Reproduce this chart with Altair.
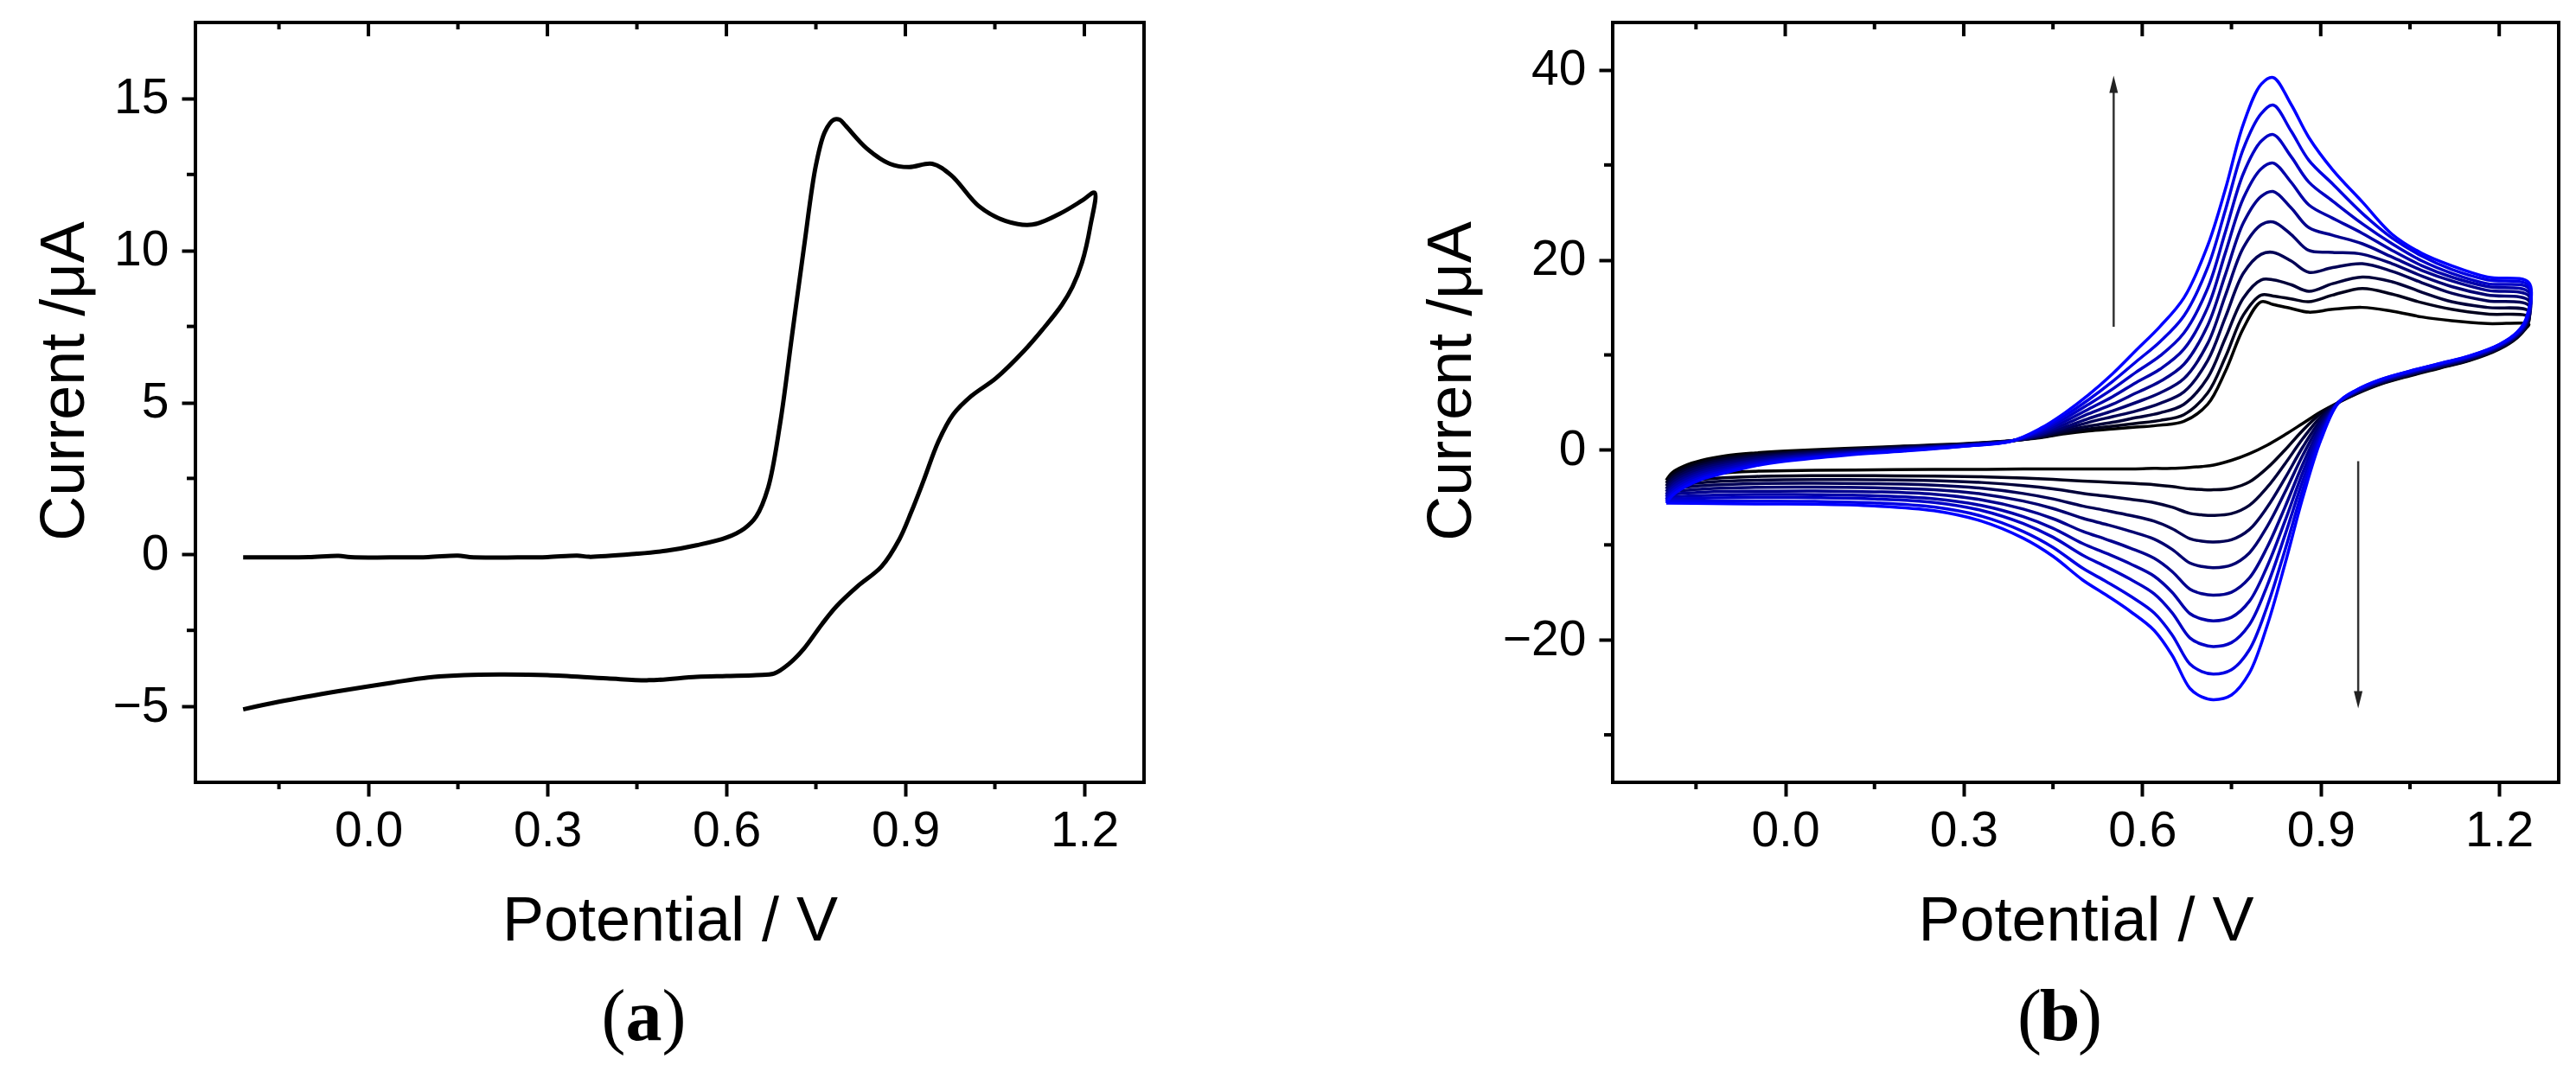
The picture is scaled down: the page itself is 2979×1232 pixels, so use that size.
import altair as alt
import pandas as pd

FONT = "Liberation Sans"
SERIF = "Liberation Serif"

# ---------------- shared axis data ----------------
x_domain = [-0.29, 1.30]
x_major = [0.0, 0.3, 0.6, 0.9, 1.2]
x_minor = [-0.15, 0.15, 0.45, 0.75, 1.05]

ya_domain = [-7.5, 17.5]
ya_major = [-5, 0, 5, 10, 15]
ya_minor = [-2.5, 2.5, 7.5, 12.5]

yb_domain = [-35, 45]
yb_major = [-20, 0, 20, 40]
yb_minor = [-30, -10, 10, 30]

panel_labels = ["a", "b"]
x_title = "Potential / V"
y_title = "Current /\u03bcA"

# ---------------- panel (a): single CV ----------------
a_fwd_x = [-0.21, -0.15, -0.10, -0.05, -0.03, 0.05, 0.10, 0.15, 0.17, 0.25, 0.30, 0.35, 0.37,
           0.45, 0.50, 0.55, 0.60, 0.63, 0.65, 0.67, 0.69, 0.71, 0.73, 0.75, 0.765, 0.78, 0.79,
           0.80, 0.835, 0.874, 0.906, 0.945, 0.977, 1.023, 1.068, 1.113, 1.158, 1.197, 1.217]
a_fwd_y = [-0.10, -0.10, -0.09, -0.05, -0.09, -0.10, -0.09, -0.04, -0.09, -0.10, -0.09, -0.04, -0.08,
           0.02, 0.12, 0.30, 0.55, 0.85, 1.25, 2.2, 4.3, 7.2, 10.1, 12.8, 13.9, 14.3, 14.3,
           14.1, 13.36, 12.85, 12.74, 12.85, 12.47, 11.46, 10.97, 10.85, 11.2, 11.65, 11.9]
a_rev_x = [1.21, 1.196, 1.18, 1.162, 1.13, 1.099, 1.052, 1.01, 0.98, 0.955, 0.93, 0.91, 0.89,
           0.86, 0.82, 0.785, 0.76, 0.73, 0.705, 0.68, 0.65, 0.60, 0.55, 0.47, 0.40, 0.30,
           0.22, 0.16, 0.10, 0.04, -0.05, -0.15, -0.21]
a_rev_y = [10.8, 9.6, 8.8, 8.2, 7.4, 6.7, 5.8, 5.2, 4.6, 3.7, 2.4, 1.4, 0.5,
           -0.4, -1.05, -1.7, -2.3, -3.1, -3.6, -3.92, -3.97, -4.0, -4.03, -4.14, -4.08, -3.97,
           -3.95, -3.97, -4.05, -4.22, -4.5, -4.85, -5.1]

# ---------------- panel (b): 10 successive CVs ----------------
b_up_x = [-0.20, -0.19, -0.17, -0.14, -0.10, -0.05, 0.00, 0.10, 0.20, 0.30, 0.38, 0.43, 0.47,
          0.51, 0.55, 0.59, 0.63, 0.67, 0.71, 0.74, 0.77, 0.80, 0.82, 0.85, 0.88, 0.92, 0.97,
          1.02, 1.07, 1.12, 1.18, 1.25]
b_lo_x = [1.245, 1.23, 1.20, 1.15, 1.10, 1.05, 1.00, 0.96, 0.93, 0.90, 0.87, 0.84, 0.81, 0.78,
          0.75, 0.72, 0.70, 0.68, 0.65, 0.62, 0.58, 0.54, 0.50, 0.45, 0.40, 0.33, 0.25, 0.15,
          0.05, -0.05, -0.12, -0.20]

up0 = [-3.2, -2.4, -1.7, -1.1, -0.62, -0.32, -0.12, 0.15, 0.40, 0.65, 0.97, 1.3, 1.7, 2.0, 2.2, 2.4,
       2.6, 3.0, 4.8, 8.3, 12.8, 15.6, 15.3, 14.9, 14.5, 14.8, 15.0, 14.6, 14.0, 13.6, 13.3, 13.2]
up1 = [-3.5, -2.67, -1.95, -1.32, -0.81, -0.47, -0.24, 0.07, 0.35, 0.62, 0.96, 1.35, 1.8, 2.2, 2.5, 2.8,
       3.1, 3.7, 6.0, 9.8, 14.2, 16.3, 16.2, 15.9, 15.6, 16.3, 17.0, 16.4, 15.5, 14.8, 14.3, 14.0]
up2 = [-3.8, -2.94, -2.2, -1.54, -1.0, -0.62, -0.36, -0.01, 0.29, 0.59, 0.96, 1.4, 2.0, 2.5, 2.9, 3.4,
       3.9, 4.8, 7.6, 11.8, 16.0, 17.9, 17.9, 17.4, 16.7, 17.5, 18.2, 17.7, 16.6, 15.6, 15.0, 14.6]
up3 = [-4.1, -3.21, -2.45, -1.76, -1.2, -0.77, -0.48, -0.09, 0.23, 0.56, 0.95, 1.5, 2.2, 2.9, 3.5, 4.1,
       4.9, 6.1, 9.4, 14.0, 18.6, 20.6, 20.8, 19.9, 18.7, 19.2, 19.6, 18.8, 17.6, 16.5, 15.7, 15.2]
up4 = [-4.4, -3.48, -2.7, -1.98, -1.4, -0.92, -0.60, -0.17, 0.17, 0.53, 0.95, 1.6, 2.4, 3.3, 4.1, 5.0,
       6.0, 7.5, 11.2, 16.3, 21.3, 23.7, 24.0, 22.7, 21.0, 20.8, 20.6, 19.6, 18.3, 17.2, 16.3, 15.7]
up5 = [-4.7, -3.75, -2.95, -2.2, -1.6, -1.07, -0.72, -0.25, 0.11, 0.50, 0.94, 1.7, 2.7, 3.8, 4.8, 6.0,
       7.2, 9.0, 13.1, 18.5, 23.9, 26.7, 27.2, 25.5, 23.4, 22.6, 21.7, 20.3, 18.9, 17.8, 16.8, 16.2]
up6 = [-4.95, -4.02, -3.2, -2.42, -1.8, -1.22, -0.84, -0.33, 0.05, 0.47, 0.94, 1.85, 3.0, 4.3, 5.6, 7.1,
       8.5, 10.6, 15.0, 20.8, 26.5, 29.6, 30.2, 28.2, 25.8, 24.4, 22.8, 21.0, 19.4, 18.2, 17.2, 16.6]
up7 = [-5.2, -4.29, -3.45, -2.64, -2.0, -1.37, -0.96, -0.41, -0.01, 0.44, 0.93, 2.0, 3.3, 4.8, 6.4, 8.2,
       9.9, 12.3, 17.0, 23.0, 29.1, 32.5, 33.2, 30.9, 28.2, 26.2, 23.8, 21.7, 19.9, 18.6, 17.5, 17.0]
up8 = [-5.4, -4.56, -3.7, -2.86, -2.2, -1.52, -1.08, -0.49, -0.07, 0.41, 0.93, 2.15, 3.6, 5.3, 7.2, 9.3,
       11.4, 14.1, 19.2, 25.3, 31.7, 35.4, 36.3, 33.6, 30.5, 28.0, 24.9, 22.3, 20.4, 19.0, 17.9, 17.3]
up9 = [-5.6, -4.83, -3.95, -3.08, -2.4, -1.67, -1.20, -0.57, -0.13, 0.38, 0.92, 2.3, 3.9, 5.8, 8.0, 10.5,
       13.0, 16.0, 21.5, 27.5, 34.3, 38.5, 39.2, 36.4, 32.9, 29.5, 26.1, 22.7, 20.7, 19.4, 18.2, 17.6]

lo0 = [12.8, 11.8, 10.6, 9.4, 8.6, 7.8, 6.9, 5.9, 5.0, 4.0, 2.8, 1.6, 0.5, -0.4, -1.1, -1.6,
       -1.75, -1.85, -1.95, -1.95, -2.0, -2.0, -2.0, -2.0, -2.0, -2.05, -2.05, -2.1, -2.15, -2.25, -2.5, -3.2]
lo1 = [12.9, 11.87, 10.66, 9.46, 8.66, 7.86, 6.96, 5.95, 5.0, 3.82, 2.07, 0.0, -1.91, -3.38, -4.05, -4.2,
       -4.18, -4.11, -3.86, -3.67, -3.52, -3.40, -3.28, -3.10, -2.96, -2.83, -2.75, -2.72, -2.72, -2.8, -3.0, -3.5]
lo2 = [13.0, 11.93, 10.72, 9.52, 8.72, 7.92, 7.02, 6.0, 5.0, 3.48, 1.20, -1.46, -3.94, -5.84, -6.71, -6.9,
       -6.84, -6.68, -6.03, -5.55, -5.19, -4.87, -4.57, -4.11, -3.77, -3.43, -3.23, -3.14, -3.12, -3.2, -3.35, -3.8]
lo3 = [13.1, 12.0, 10.78, 9.58, 8.78, 7.98, 7.08, 6.05, 5.0, 3.12, 0.31, -2.98, -6.04, -8.39, -9.46, -9.7,
       -9.61, -9.34, -8.29, -7.51, -6.90, -6.39, -5.91, -5.16, -4.59, -4.04, -3.71, -3.56, -3.52, -3.55, -3.7, -4.1]
lo4 = [13.2, 12.07, 10.84, 9.64, 8.84, 8.04, 7.14, 6.1, 5.0, 2.77, -0.55, -4.45, -8.07, -10.85, -12.12, -12.4,
       -12.27, -11.91, -10.46, -9.39, -8.57, -7.86, -7.20, -6.17, -5.39, -4.64, -4.19, -3.99, -3.92, -3.95, -4.05, -4.4]
lo5 = [13.3, 12.13, 10.9, 9.7, 8.9, 8.1, 7.2, 6.15, 5.0, 2.40, -1.48, -6.02, -10.25, -13.49, -14.98, -15.3,
       -15.14, -14.66, -12.79, -11.41, -10.34, -9.43, -8.57, -7.24, -6.23, -5.26, -4.67, -4.41, -4.32, -4.35, -4.4, -4.7]
lo6 = [13.4, 12.2, 10.96, 9.76, 8.96, 8.16, 7.26, 6.2, 5.0, 2.06, -2.34, -7.49, -12.27, -15.95, -17.63, -18.0,
       -17.80, -17.23, -14.97, -13.29, -12.00, -10.90, -9.86, -8.25, -7.03, -5.86, -5.15, -4.83, -4.72, -4.7, -4.75, -4.95]
lo7 = [13.5, 12.27, 11.02, 9.82, 9.02, 8.22, 7.32, 6.25, 5.0, 1.71, -3.20, -8.96, -14.30, -18.41, -20.29, -20.7,
       -20.46, -19.79, -17.12, -15.14, -13.62, -12.32, -11.09, -9.19, -7.75, -6.37, -5.53, -5.16, -5.03, -5.0, -5.05, -5.2]
lo8 = [13.6, 12.33, 11.08, 9.88, 9.08, 8.28, 7.38, 6.3, 5.0, 1.34, -4.12, -10.53, -16.48, -21.05, -23.14, -23.6,
       -23.33, -22.54, -19.45, -17.16, -15.39, -13.88, -12.46, -10.26, -8.59, -6.98, -6.02, -5.58, -5.43, -5.4, -5.4, -5.4]
lo9 = [13.8, 12.4, 11.1, 9.9, 9.1, 8.3, 7.4, 6.3, 5.0, 1.0, -5.0, -12.0, -18.5, -23.5, -25.8, -26.3,
       -26.0, -25.1, -21.6, -19.0, -17.0, -15.3, -13.7, -11.2, -9.3, -7.5, -6.4, -5.9, -5.72, -5.7, -5.65, -5.6]

b_upper = [up0, up1, up2, up3, up4, up5, up6, up7, up8, up9]
b_lower = [lo0, lo1, lo2, lo3, lo4, lo5, lo6, lo7, lo8, lo9]
b_colors = ["#000000", "#00001c", "#000039", "#000055", "#000071",
            "#00008e", "#0000aa", "#0000c6", "#0000e3", "#0000ff"]

# arrows in panel (b): x, tail y, head y (centre of head)
arrow_x = [0.552, 0.963]
arrow_tail = [12.96, -1.2]
arrow_head = [38.5, -26.3]

# ---------------- build tables ----------------
rows_a = []
for k, (x, y) in enumerate(zip(a_fwd_x + a_rev_x, a_fwd_y + a_rev_y)):
    rows_a.append({"x": x, "y": y, "i": k})
df_a = pd.DataFrame(rows_a)

rows_b = []
for c in range(10):
    xs_ = b_up_x + b_lo_x
    ys_ = b_upper[c] + b_lower[c]
    for k, (x, y) in enumerate(zip(xs_, ys_)):
        rows_b.append({"x": x, "y": y, "i": k, "curve": c})
df_b = pd.DataFrame(rows_b)

# ---------------- layout constants ----------------
WA, WB, H = 1097, 1094, 879

common_axis = dict(domain=False, grid=False, ticks=True, tickSize=16, tickWidth=4,
                   tickColor="black", labelFont=FONT, labelFontSize=57, labelColor="black",
                   labelFlush=False, labelOverlap=False, titleFont=FONT, titleFontSize=72,
                   titleFontWeight="normal", titleColor="black")


def panel(df, ydom, ymaj, ymin, W, ytitle_x, line_mark, color_enc, with_arrows, label):
    xs = alt.Scale(domain=x_domain, nice=False, zero=False)
    ys = alt.Scale(domain=ydom, nice=False, zero=False)
    xaxis = alt.Axis(values=x_major, format=".1f", title=x_title, labelPadding=12,
                     titleX=W / 2, titleY=182, titleAlign="center", titleBaseline="alphabetic",
                     titleAngle=0, **common_axis)
    yaxis = alt.Axis(values=ymaj, format="d", title=y_title, labelPadding=15,
                     titleX=ytitle_x, titleY=H / 2 - 25, titleAlign="center",
                     titleBaseline="alphabetic", titleAngle=270, **common_axis)
    X = lambda f="x": alt.X(f"{f}:Q", scale=xs, axis=xaxis)
    Y = lambda f="y": alt.Y(f"{f}:Q", scale=ys, axis=yaxis)

    enc = dict(x=X(), y=Y(), order=alt.Order("i:Q"))
    if color_enc is not None:
        enc["color"] = color_enc
    lines = alt.Chart(df).mark_line(**line_mark).encode(**enc)

    def vrule(vals, y0, y1):
        return alt.Chart(pd.DataFrame({"x": vals})).mark_rule(color="black", strokeWidth=4).encode(
            x=X(), y=alt.value(y0), y2=alt.value(y1))

    def hrule(vals, x0, x1):
        return alt.Chart(pd.DataFrame({"y": vals})).mark_rule(color="black", strokeWidth=4).encode(
            y=Y(), x=alt.value(x0), x2=alt.value(x1))

    layers = [lines, vrule(x_major, 0, 16), vrule(x_minor, 0, 8), vrule(x_minor, H, H + 8),
              hrule(ymin, -10, 0)]

    if with_arrows:
        shaft_df = pd.DataFrame({"x": arrow_x, "y": arrow_tail, "y2": arrow_head})
        layers.append(alt.Chart(shaft_df).mark_rule(color="#333333", strokeWidth=2.5).encode(
            x=X(), y=Y(), y2="y2:Q"))
        up_df = pd.DataFrame({"x": arrow_x[:1], "y": arrow_head[:1]})
        layers.append(alt.Chart(up_df).mark_point(shape="M0,-1L0.5,1L-0.5,1Z", filled=True,
                                                  size=400, color="#222222", opacity=1).encode(
            x=X(), y=Y()))
        dn_df = pd.DataFrame({"x": arrow_x[1:], "y": arrow_head[1:]})
        layers.append(alt.Chart(dn_df).mark_point(shape="M0,1L0.5,-1L-0.5,-1Z", filled=True,
                                                  size=400, color="#222222", opacity=1).encode(
            x=X(), y=Y()))

    cx = W / 2 - 30
    y_lab = 1177
    fs = 84
    layers += [
        alt.Chart(pd.DataFrame({"t": ["("]})).mark_text(font=SERIF, fontSize=fs, align="left",
                                                        baseline="alphabetic", color="black").encode(
            text="t:N", x=alt.value(cx - 49), y=alt.value(y_lab)),
        alt.Chart(pd.DataFrame({"t": [label]})).mark_text(font=SERIF, fontSize=fs, fontWeight="bold",
                                                          align="center", baseline="alphabetic",
                                                          color="black").encode(
            text="t:N", x=alt.value(cx), y=alt.value(y_lab)),
        alt.Chart(pd.DataFrame({"t": [")"]})).mark_text(font=SERIF, fontSize=fs, align="right",
                                                        baseline="alphabetic", color="black").encode(
            text="t:N", x=alt.value(cx + 49), y=alt.value(y_lab)),
    ]
    return alt.layer(*layers).properties(width=W, height=H)


chart_a = panel(df_a, ya_domain, ya_major, ya_minor, WA, -130,
                dict(color="black", strokeWidth=5, interpolate="catmull-rom"),
                None, False, panel_labels[0])

color_b = alt.Color("curve:N", scale=alt.Scale(domain=list(range(10)), range=b_colors), legend=None)
chart_b = panel(df_b, yb_domain, yb_major, yb_minor, WB, -165,
                dict(strokeWidth=3.5, interpolate="catmull-rom"),
                color_b, True, panel_labels[1])

chart = alt.hconcat(chart_a, chart_b, spacing=542, bounds="flush").properties(
    padding={"left": 28, "top": 14, "right": 5, "bottom": 5}
).configure(background="white").configure_view(stroke="black", strokeWidth=4)

chart.save("out.html", embed_options={"renderer": "svg", "actions": False})
